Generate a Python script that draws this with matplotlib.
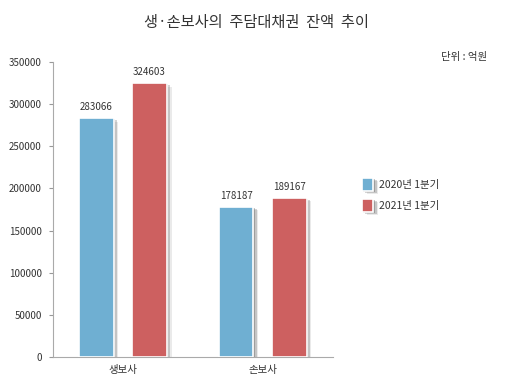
import matplotlib.pyplot as plt
import matplotlib.patheffects as pe
import numpy as np

plt.rcParams['font.family'] = ['Noto Sans CJK KR', 'DejaVu Sans']

categories = ['생보사', '손보사']
series_names = ['2020년 1분기', '2021년 1분기']
values_2020 = [283066, 178187]
values_2021 = [324603, 189167]
colors = ['#6FAFD2', '#CD6060']

fig = plt.figure(figsize=(5.12, 3.82), dpi=100)
ax = fig.add_axes([0.1035, 0.0654, 0.5465, 0.7726])

x = np.arange(len(categories))
w = 0.245
# soft drop shadow like the original
shadow = [pe.SimplePatchShadow(offset=(3.5, -2.5), shadow_rgbFace='#777777', alpha=0.15),
          pe.SimplePatchShadow(offset=(2.5, -1.5), shadow_rgbFace='#555555', alpha=0.25),
          pe.SimplePatchShadow(offset=(1.2, -0.8), shadow_rgbFace='#444444', alpha=0.3),
          pe.Normal()]
for i, (vals, c) in enumerate([(values_2020, colors[0]), (values_2021, colors[1])]):
    bars = ax.bar(x + (i - 0.5) * 0.38, vals, w, color=c, edgecolor='white', linewidth=1.2,
                  label=series_names[i], path_effects=shadow, zorder=3)
    for b, v in zip(bars, vals):
        ax.text(b.get_x() + b.get_width() / 2, v + 7000, str(v), ha='center', va='bottom',
                fontsize=7, color='#333333')

ax.set_xlim(-0.5, 1.5)
ax.set_ylim(0, 350000)
ax.set_yticks(range(0, 350001, 50000))
ax.set_xticks(x)
ax.set_xticklabels(categories, fontsize=7.5, color='#333333')
ax.tick_params(axis='x', length=0, pad=6)
ax.tick_params(axis='y', length=3, colors='#999999', labelcolor='#333333', labelsize=7, pad=5)
for s in ['top', 'right']:
    ax.spines[s].set_visible(False)
ax.spines['left'].set_color('#aaaaaa')
ax.spines['bottom'].set_color('#aaaaaa')

fig.text(0.5, 0.942, '생·손보사의  주담대채권  잔액  추이', ha='center', va='center', fontsize=11, color='#333333')
fig.text(0.951, 0.851, '단위 : 억원', ha='right', va='center', fontsize=7.5, color='#333333')

leg = ax.legend(loc='center left', bbox_to_anchor=(1.07, 0.55), frameon=False, fontsize=7.5,
                handlelength=1.1, handleheight=1.5, handletextpad=0.6, labelspacing=0.8)
for t in leg.get_texts():
    t.set_color('#333333')

fig.savefig('out.png', dpi=100)
